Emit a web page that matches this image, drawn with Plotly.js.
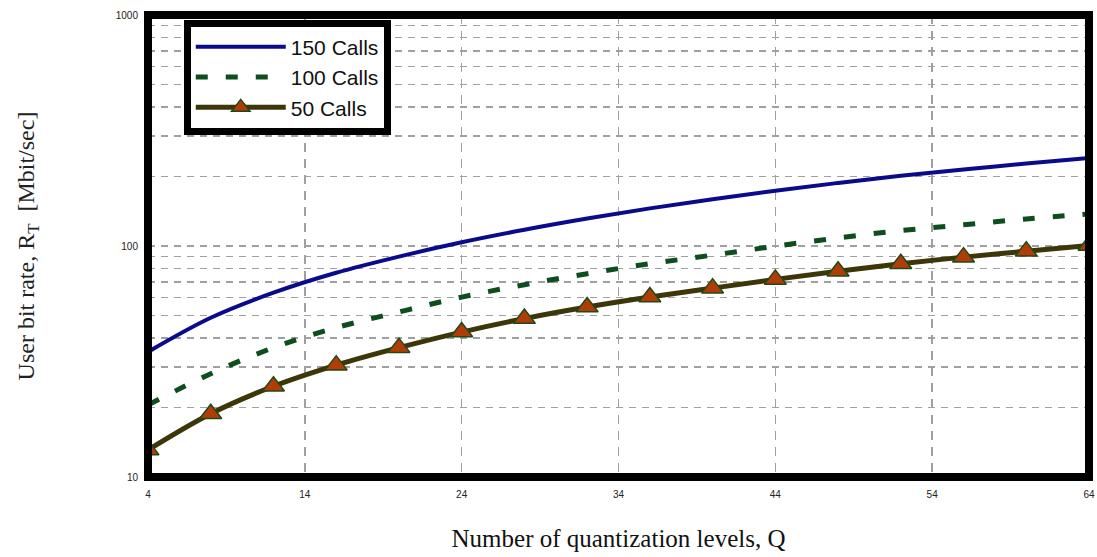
<!DOCTYPE html>
<html>
<head>
<meta charset="utf-8">
<script src="https://cdn.plot.ly/plotly-3.0.1.min.js"></script>
<style>
  html, body { margin: 0; padding: 0; background: #ffffff; }
  #chart { width: 1097px; height: 557px; }
</style>
</head>
<body>
<div id="chart"></div>
<script>
// Number of quantization levels
const Q = [4, 8, 12, 16, 20, 24, 28, 32, 36, 40, 44, 48, 52, 56, 60, 64];

// User bit rate R_T [Mbit/sec]
const calls150 = [34.8, 48.9, 62.8, 76.6, 90.0, 103.8, 117.6, 131.5, 145.5, 159.5, 173.5, 187.5, 201.5, 214.5, 227.5, 240.4];
const calls100 = [20.5, 28.0, 36.3, 44.3, 51.8, 60.1, 68.0, 75.9, 83.8, 91.3, 99.8, 108.4, 116.6, 123.5, 131.0, 137.7];
const calls50  = [13.1, 18.8, 24.7, 30.5, 36.3, 42.4, 48.5, 54.4, 60.1, 65.7, 71.7, 77.8, 83.8, 89.5, 95.0, 100.5];

const seriesNames = ['150 Calls', '100 Calls', '50 Calls'];

const xTicks = [4, 14, 24, 34, 44, 54, 64];
const yTickVals = [10, 20, 30, 40, 50, 60, 70, 80, 90, 100, 200, 300, 400, 500, 600, 700, 800, 900, 1000];
const yTickText = ['10', '', '', '', '', '', '', '', '', '100', '', '', '', '', '', '', '', '', '1000'];

const traces = [
  {
    x: Q, y: calls150, name: seriesNames[0], type: 'scatter', mode: 'lines',
    line: { color: '#0a0a8c', width: 4, shape: 'spline', smoothing: 1 },
    legendgroup: 'a'
  },
  {
    x: Q, y: calls100, name: seriesNames[1], type: 'scatter', mode: 'lines',
    line: { color: '#0d4d1e', width: 5, dash: '12px,18px', shape: 'spline', smoothing: 1 },
    legendgroup: 'b'
  },
  {
    x: Q, y: calls50, name: seriesNames[2], type: 'scatter', mode: 'lines+markers',
    line: { color: '#3c3608', width: 5, shape: 'spline', smoothing: 1 },
    marker: { symbol: 'triangle-up', size: 19, color: '#b03c08', line: { color: '#1f4a16', width: 1.5 } },
    legendgroup: 'c'
  }
];

const layout = {
  width: 1097, height: 557,
  margin: { l: 148, r: 8, t: 15, b: 80 },
  paper_bgcolor: '#ffffff', plot_bgcolor: '#ffffff',
  showlegend: true,
  legend: {
    x: 0.038, y: 0.99, xanchor: 'left', yanchor: 'top',
    bgcolor: '#ffffff', bordercolor: '#000000', borderwidth: 7,
    font: { family: 'Liberation Sans, Arial, sans-serif', size: 21, color: '#111111' },
    itemwidth: 90, tracegroupgap: 8,
    traceorder: 'normal'
  },
  xaxis: {
    range: [4, 64],
    tickvals: xTicks,
    ticktext: xTicks.map(String),
    showline: false, zeroline: false,
    showgrid: true, gridcolor: '#a0a0a0', gridwidth: 1.5, griddash: '9px,7px',
    ticks: '', ticklabelstandoff: 10,
    tickfont: { family: 'Liberation Sans, Arial, sans-serif', size: 10, color: '#222222' },
    title: {
      text: 'Number of quantization levels, Q',
      font: { family: 'Liberation Serif, Times New Roman, serif', size: 25, color: '#111111' },
      standoff: 30
    }
  },
  yaxis: {
    type: 'log',
    range: [1, 3],
    tickvals: yTickVals,
    ticktext: yTickText,
    showline: false, zeroline: false,
    showgrid: true, gridcolor: '#a0a0a0', gridwidth: 1.5, griddash: '7px,6px',
    ticks: '', ticklabelstandoff: 9,
    tickfont: { family: 'Liberation Sans, Arial, sans-serif', size: 10, color: '#222222' },
    title: {
      text: 'User bit rate, R<sub>T</sub>  [Mbit/sec]',
      font: { family: 'Liberation Serif, Times New Roman, serif', size: 24, color: '#222222' },
      standoff: 74
    }
  },
  shapes: [
    { type: 'rect', xref: 'paper', yref: 'paper', x0: 0, x1: 1, y0: 0, y1: 1,
      line: { color: '#000000', width: 8 }, layer: 'above' }
  ]
};

Plotly.newPlot('chart', traces, layout, { displayModeBar: false, staticPlot: true });
</script>
</body>
</html>
